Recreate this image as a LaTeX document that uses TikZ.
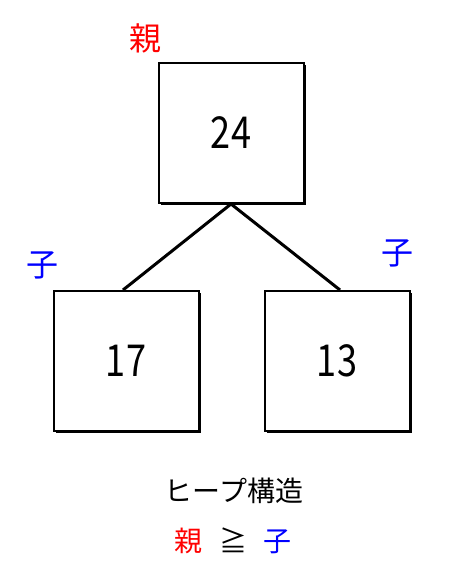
\documentclass[tikz,border=0pt]{standalone}
\usepackage{fontspec}
\setmainfont{Noto Sans CJK JP}
\usetikzlibrary{shadows}
\definecolor{oyared}{RGB}{255,0,0}
\definecolor{koblue}{RGB}{0,0,255}
\newcommand{\heapnum}[1]{\scalebox{0.82}[1]{#1}}
\tikzset{
    heapbox/.style={draw, line width=2pt, fill=white, minimum width=145pt, minimum height=140pt,
        inner sep=0pt, font=\fontsize{44}{44}\selectfont,
        drop shadow={shadow xshift=2pt, shadow yshift=-2pt, fill=black, opacity=1}},
    tag/.style={font=\fontsize{32}{32}\selectfont}
}
\begin{document}
\begin{tikzpicture}[x=1pt, y=-1pt]
            \useasboundingbox (0,0) rectangle (450,577);
            \node[heapbox] (top) at (231,133) {\heapnum{24}};
            \node[heapbox] (left) at (126,361) {\heapnum{17}};
            \node[heapbox] (right) at (337,361) {\heapnum{13}};
            \draw[line width=3pt] (top.south) -- ([xshift=-3pt]left.north);
            \draw[line width=3pt] (top.south) -- ([xshift=3pt]right.north);
            \node[tag, text=oyared] (oya) at (145,38) {親};
            \node[tag, text=koblue] (ko1) at (42,265) {子};
            \node[tag, text=koblue] (ko2) at (397,253) {子};
            \node[font=\fontsize{28}{28}\selectfont] (title) at (234,491) {ヒープ構造};
            \node[font=\fontsize{28}{28}\selectfont] (rule) at (233,541)
                {\textcolor{oyared}{親}\hspace{0.6em}≧\hspace{0.6em}\textcolor{koblue}{子}};
        \end{tikzpicture}
\end{document}
